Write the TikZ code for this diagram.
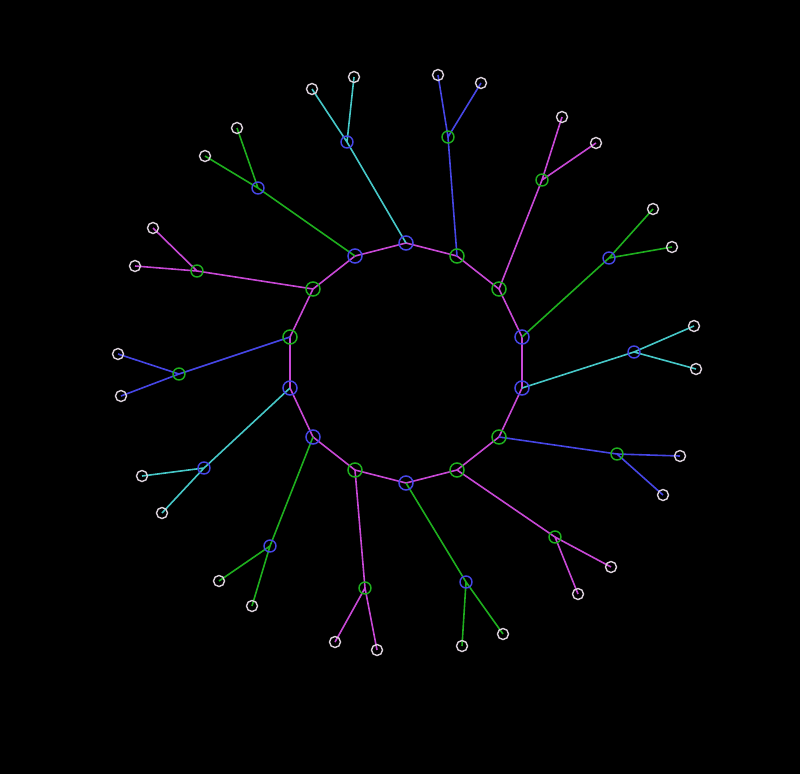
\documentclass[tikz,border=0pt]{standalone}
\usetikzlibrary{backgrounds}
\definecolor{edgepink}{RGB}{200,72,214}
\definecolor{edgeblue}{RGB}{70,70,230}
\definecolor{edgecyan}{RGB}{70,200,200}
\definecolor{edgegreen}{RGB}{30,175,30}
\definecolor{leafgray}{RGB}{220,210,220}
\tikzset{
	hub/.style={circle,draw,inner sep=0pt,minimum size=14pt,line width=1.5pt},
	mid/.style={circle,draw,inner sep=0pt,minimum size=12pt,line width=1.4pt},
	leaf/.style={circle,draw=leafgray,inner sep=0pt,minimum size=11pt,line width=1.4pt},
	wire/.style={line width=1.6pt}
}
\begin{document}
\begin{tikzpicture}[x=1pt,y=-1pt]
		\useasboundingbox (0,0) rectangle (800,774);
		% the ring
		\node[hub,draw=edgeblue]  (r1)  at (406,243) {}; \node[hub,draw=edgegreen] (r2)  at (457,256) {};
		\node[hub,draw=edgegreen] (r3)  at (499,289) {}; \node[hub,draw=edgeblue]  (r4)  at (522,337) {};
		\node[hub,draw=edgeblue]  (r5)  at (522,388) {}; \node[hub,draw=edgegreen] (r6)  at (499,437) {};
		\node[hub,draw=edgegreen] (r7)  at (457,470) {}; \node[hub,draw=edgeblue]  (r8)  at (406,483) {};
		\node[hub,draw=edgegreen] (r9)  at (355,470) {}; \node[hub,draw=edgeblue]  (r10) at (313,437) {};
		\node[hub,draw=edgeblue]  (r11) at (290,388) {}; \node[hub,draw=edgegreen] (r12) at (290,337) {};
		\node[hub,draw=edgegreen] (r13) at (313,289) {}; \node[hub,draw=edgeblue]  (r14) at (355,256) {};
		% the middle nodes
		\node[mid,draw=edgeblue]  (m1)  at (347,142) {}; \node[mid,draw=edgegreen] (m2)  at (448,137) {};
		\node[mid,draw=edgegreen] (m3)  at (542,180) {}; \node[mid,draw=edgeblue]  (m4)  at (609,258) {};
		\node[mid,draw=edgeblue]  (m5)  at (634,352) {}; \node[mid,draw=edgegreen] (m6)  at (617,454) {};
		\node[mid,draw=edgegreen] (m7)  at (555,537) {}; \node[mid,draw=edgeblue]  (m8)  at (466,582) {};
		\node[mid,draw=edgegreen] (m9)  at (365,588) {}; \node[mid,draw=edgeblue]  (m10) at (270,546) {};
		\node[mid,draw=edgeblue]  (m11) at (204,468) {}; \node[mid,draw=edgegreen] (m12) at (179,374) {};
		\node[mid,draw=edgegreen] (m13) at (197,271) {}; \node[mid,draw=edgeblue]  (m14) at (258,188) {};
		% the leaves
		\node[leaf] (a1)  at (312,89)  {}; \node[leaf] (b1)  at (354,77)  {};
		\node[leaf] (a2)  at (438,75)  {}; \node[leaf] (b2)  at (481,83)  {};
		\node[leaf] (a3)  at (562,117) {}; \node[leaf] (b3)  at (596,143) {};
		\node[leaf] (a4)  at (653,209) {}; \node[leaf] (b4)  at (672,247) {};
		\node[leaf] (a5)  at (694,326) {}; \node[leaf] (b5)  at (696,369) {};
		\node[leaf] (a6)  at (680,456) {}; \node[leaf] (b6)  at (663,495) {};
		\node[leaf] (a7)  at (611,567) {}; \node[leaf] (b7)  at (578,594) {};
		\node[leaf] (a8)  at (503,634) {}; \node[leaf] (b8)  at (462,646) {};
		\node[leaf] (a9)  at (335,642) {}; \node[leaf] (b9)  at (377,650) {};
		\node[leaf] (a10) at (219,581) {}; \node[leaf] (b10) at (252,606) {};
		\node[leaf] (a11) at (142,476) {}; \node[leaf] (b11) at (162,513) {};
		\node[leaf] (a12) at (118,354) {}; \node[leaf] (b12) at (121,396) {};
		\node[leaf] (a13) at (135,266) {}; \node[leaf] (b13) at (153,228) {};
		\node[leaf] (a14) at (205,156) {}; \node[leaf] (b14) at (237,128) {};
		\begin{scope}[on background layer]
			\fill[black] (0,0) rectangle (800,774);
			% rim and spokes
			\draw[wire,edgepink] (r1.center) -- (r2.center) -- (r3.center) -- (r4.center) -- (r5.center)
				-- (r6.center) -- (r7.center) -- (r8.center) -- (r9.center) -- (r10.center) -- (r11.center)
				-- (r12.center) -- (r13.center) -- (r14.center) -- cycle;
			\draw[wire,edgecyan]  (r1.center) -- (m1.center) -- (a1.center) (m1.center) -- (b1.center);
			\draw[wire,edgeblue]  (r2.center) -- (m2.center) -- (a2.center) (m2.center) -- (b2.center);
			\draw[wire,edgepink]  (r3.center) -- (m3.center) -- (a3.center) (m3.center) -- (b3.center);
			\draw[wire,edgegreen] (r4.center) -- (m4.center) -- (a4.center) (m4.center) -- (b4.center);
			\draw[wire,edgecyan]  (r5.center) -- (m5.center) -- (a5.center) (m5.center) -- (b5.center);
			\draw[wire,edgeblue]  (r6.center) -- (m6.center) -- (a6.center) (m6.center) -- (b6.center);
			\draw[wire,edgepink]  (r7.center) -- (m7.center) -- (a7.center) (m7.center) -- (b7.center);
			\draw[wire,edgegreen] (r8.center) -- (m8.center) -- (a8.center) (m8.center) -- (b8.center);
			\draw[wire,edgepink]  (r9.center) -- (m9.center) -- (a9.center) (m9.center) -- (b9.center);
			\draw[wire,edgegreen] (r10.center) -- (m10.center) -- (a10.center) (m10.center) -- (b10.center);
			\draw[wire,edgecyan]  (r11.center) -- (m11.center) -- (a11.center) (m11.center) -- (b11.center);
			\draw[wire,edgeblue]  (r12.center) -- (m12.center) -- (a12.center) (m12.center) -- (b12.center);
			\draw[wire,edgepink]  (r13.center) -- (m13.center) -- (a13.center) (m13.center) -- (b13.center);
			\draw[wire,edgegreen] (r14.center) -- (m14.center) -- (a14.center) (m14.center) -- (b14.center);
		\end{scope}
\end{tikzpicture}
\end{document}
